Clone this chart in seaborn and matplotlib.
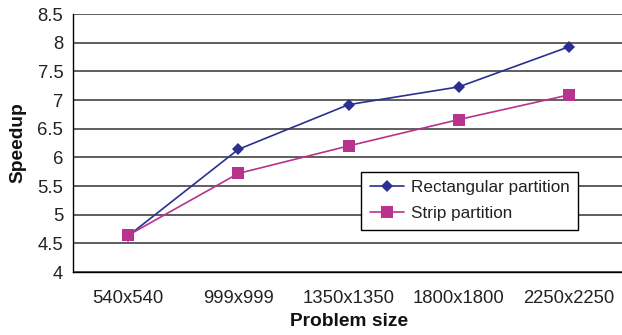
import pandas as pd
import numpy as np
import matplotlib
matplotlib.use('Agg')
import matplotlib.pyplot as plt
import seaborn as sns

# --- Dados ---
problem_sizes = ['540x540', '999x999', '1350x1350', '1800x1800', '2250x2250']
rect_speedup = [4.63, 6.14, 6.92, 7.23, 7.93]
strip_speedup = [4.64, 5.72, 6.20, 6.66, 7.09]
series_names = ['Rectangular partition', 'Strip partition']

df = pd.DataFrame({
    'Problem size': problem_sizes * 2,
    'Speedup': rect_speedup + strip_speedup,
    'Series': [series_names[0]] * 5 + [series_names[1]] * 5,
})
df['pos'] = list(range(5)) * 2

sns.set_theme(style="white")
plt.rcParams['font.family'] = ['Liberation Sans', 'DejaVu Sans']

fig = plt.figure(figsize=(6.22, 3.35), dpi=100)
ax = fig.add_axes([0.1174, 0.188, 0.886, 0.770])

colors = {series_names[0]: '#2B2F8F', series_names[1]: '#B8338C'}
sns.lineplot(data=df, x='pos', y='Speedup', hue='Series', style='Series',
             palette=colors, markers={series_names[0]: 'D', series_names[1]: 's'},
             dashes=False, markersize=7, linewidth=1.2, markeredgewidth=0,
             ax=ax, zorder=3)

# tamanhos de marcador diferentes por série
for line in ax.get_lines():
    if line.get_marker() == 'D':
        line.set_markersize(6)
    elif line.get_marker() == 's':
        line.set_markersize(8)

ax.set_xlim(-0.5, 4.5)
ax.set_ylim(4, 8.5)
ax.set_yticks(np.arange(4, 8.51, 0.5))
ax.set_yticklabels(['4', '4.5', '5', '5.5', '6', '6.5', '7', '7.5', '8', '8.5'])
ax.set_xticks(range(5))
ax.set_xticklabels(problem_sizes)
ax.set_xticks(np.arange(-0.5, 4.6, 1), minor=True)
ax.tick_params(axis='x', which='major', length=0, labelsize=13.3, pad=13, colors='#222222')
ax.tick_params(axis='x', which='minor', length=5, width=1, color='black', direction='out')
ax.tick_params(axis='y', length=5, width=1, color='black', direction='out', labelsize=13.3,
               pad=2, labelcolor='#222222')
ax.yaxis.grid(True, color='#333333', linewidth=1.1)
ax.set_axisbelow(True)

for s in ['top', 'right']:
    ax.spines[s].set_visible(False)
for s in ['left', 'bottom']:
    ax.spines[s].set_color('black')
    ax.spines[s].set_linewidth(1)

ax.set_xlabel('Problem size', fontsize=13.8, fontweight='bold', labelpad=4, color='#111111')
ax.set_ylabel('Speedup', fontsize=13.8, fontweight='bold', labelpad=8, color='#111111')

handles, labels = ax.get_legend_handles_labels()
leg = ax.legend(handles, labels, loc='upper left', bbox_to_anchor=(0.523, 0.388),
                fontsize=12.3, frameon=True, fancybox=False, edgecolor='black',
                framealpha=1, borderpad=0.5, labelspacing=0.64, handlelength=2.0,
                handletextpad=0.4, borderaxespad=0)
leg.get_frame().set_linewidth(1)
for t in leg.get_texts():
    t.set_color('#222222')

fig.savefig('out.png', dpi=100)
